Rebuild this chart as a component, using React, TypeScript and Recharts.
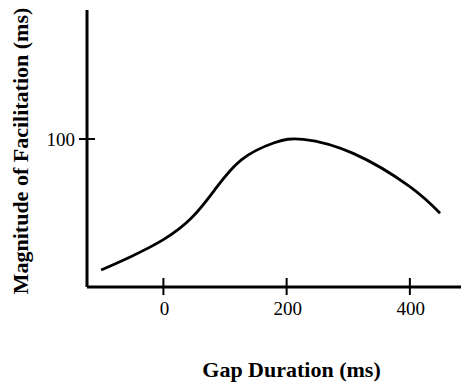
import React from 'react';
import { LineChart, Line, XAxis, YAxis, Label } from 'recharts';

const gapDuration = [-101, -53, 0, 45, 83, 126, 180, 227, 308, 400, 449];
const facilitation = [11.5, 20.5, 32, 46.4, 65.5, 85.8, 97.5, 99.8, 90.3, 67.8, 49.8];
const xTicks = [0, 200, 400];
const yTicks = [100];

const data = gapDuration.map((g, i) => ({ gap: g, fac: facilitation[i] }));

const FONT = '"Liberation Serif", "Times New Roman", serif';

const XTick = (props: any) => {
  const { x, y, payload } = props;
  return (
    <g>
      <line x1={x} x2={x} y1={y - 9} y2={y + 8} stroke="#000" strokeWidth={2} />
      <text x={x + 1} y={y + 28} textAnchor="middle" fontFamily={FONT} fontSize={19} fill="#000">
        {payload.value}
      </text>
    </g>
  );
};

const YTick = (props: any) => {
  const { x, y, payload } = props;
  return (
    <g>
      <line x1={x - 8} x2={x + 8} y1={y} y2={y} stroke="#000" strokeWidth={2} />
      <text x={x - 12} y={y + 6.5} textAnchor="end" fontFamily={FONT} fontSize={19} fill="#000">
        {payload.value}
      </text>
    </g>
  );
};

export default function App() {
  return (
    <div style={{ position: 'absolute', left: 0, top: 0, background: '#fff' }}>
      <LineChart width={461} height={382} data={data} margin={{ top: 10, right: 0, bottom: 0, left: 0 }}>
        <XAxis
          dataKey="gap"
          type="number"
          domain={[-124, 483]}
          ticks={xTicks}
          tick={<XTick />}
          tickSize={0}
          tickMargin={0}
          tickLine={false}
          height={95}
          axisLine={{ stroke: '#000', strokeWidth: 3 }}
        >
          <Label
            content={() => (
              <text x={291.5} y={377} textAnchor="middle" fontFamily={FONT} fontWeight="bold" fontSize={22} fill="#000">
                Gap Duration (ms)
              </text>
            )}
          />
        </XAxis>
        <YAxis
          type="number"
          domain={[0, 187.2]}
          ticks={yTicks}
          tick={<YTick />}
          tickSize={0}
          tickMargin={0}
          tickLine={false}
          width={87}
          axisLine={{ stroke: '#000', strokeWidth: 3 }}
        >
          <Label
            content={() => (
              <text
                x={0}
                y={0}
                transform="translate(28,151) rotate(-90)"
                textAnchor="middle"
                fontFamily={FONT}
                fontWeight="bold"
                fontSize={22}
                fill="#000"
              >
                Magnitude of Facilitation (ms)
              </text>
            )}
          />
        </YAxis>
        <Line
          type="natural"
          dataKey="fac"
          stroke="#000"
          strokeWidth={2.8}
          dot={false}
          isAnimationActive={false}
        />
      </LineChart>
    </div>
  );
}
